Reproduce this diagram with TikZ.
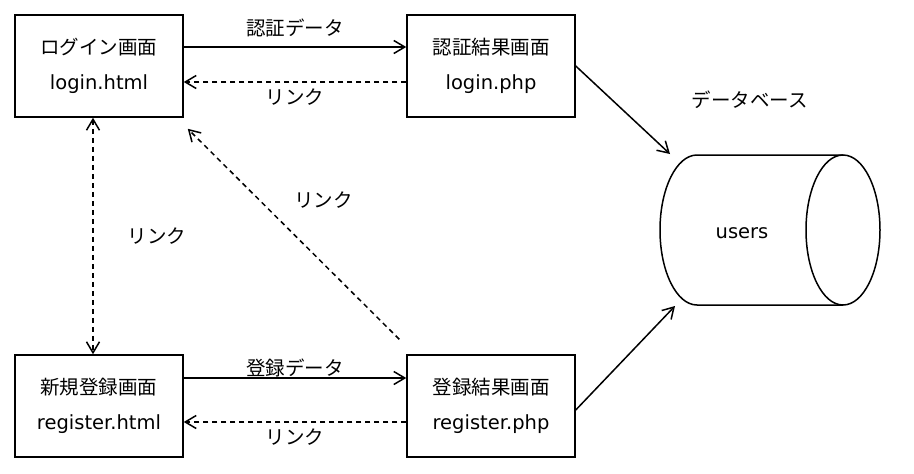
\documentclass[tikz,border=0pt]{standalone}
\usepackage{fontspec}
\setmainfont{DejaVu Sans}
\newfontfamily\jp{Noto Sans CJK JP}
\usetikzlibrary{arrows.meta}

\begin{document}
\begin{tikzpicture}[x=1pt,y=-1pt,
	>={Straight Barb[length=11pt,width=13pt,line width=1.5pt]},
	every node/.style={font=\fontsize{19.5pt}{35pt}\selectfont},
	screen/.style={draw,line width=1.5pt,minimum width=168pt,minimum height=102pt,align=center,inner sep=0pt},
	data/.style={line width=1.5pt,->},
	link/.style={data,dash pattern=on 5pt off 4pt}]
	\useasboundingbox (0,0) rectangle (914,474);
		\node[screen] (login) at (99,66) {{\jp ログイン画面}\\login.html};
		\node[screen] (auth) at (491,66) {{\jp 認証結果画面}\\login.php};
		\node[screen] (reghtml) at (99,406) {{\jp 新規登録画面}\\register.html};
		\node[screen] (regphp) at (491,406) {{\jp 登録結果画面}\\register.php};
		% データベース
		\draw[line width=1.5pt] (843,155) -- (697,155) arc[start angle=270,end angle=90,x radius=37,y radius=75] -- (843,305);
		\draw[line width=1.5pt] (843,230) ellipse[x radius=37,y radius=75];
		\node (db) at (742,233) {users};
		\node (dblabel) at (750,100) {\jp データベース};
		\coordinate (dbin1) at (670,154);
		\coordinate (dbin2) at (675,306);
		% ログイン
		\draw[data] ([yshift=19pt]login.east) -- node[yshift=19pt] {\jp 認証データ} ([yshift=19pt]auth.west);
		\draw[link] ([yshift=-16pt]auth.west) -- node[yshift=-15pt] {\jp リンク} ([yshift=-16pt]login.east);
		% 登録
		\draw[data] ([yshift=28pt]reghtml.east) -- node[yshift=10pt] {\jp 登録データ} ([yshift=28pt]regphp.west);
		\draw[link] ([yshift=-16pt]regphp.west) -- node[yshift=-15pt] {\jp リンク} ([yshift=-16pt]reghtml.east);
		% 画面間のリンク
		\draw[link,<->] ([xshift=-6pt]login.south) -- node[xshift=64pt] {\jp リンク} ([xshift=-6pt]reghtml.north);
		\draw[link] ([shift={(-7pt,15pt)}]regphp.north west) -- node[xshift=30pt,yshift=34pt] {\jp リンク} ([shift={(4pt,-11pt)}]login.south east);
		% 書き込み
		\draw[data] (auth.east) -- (dbin1);
		\draw[data] ([yshift=-4pt]regphp.east) -- (dbin2);
\end{tikzpicture}
\end{document}
